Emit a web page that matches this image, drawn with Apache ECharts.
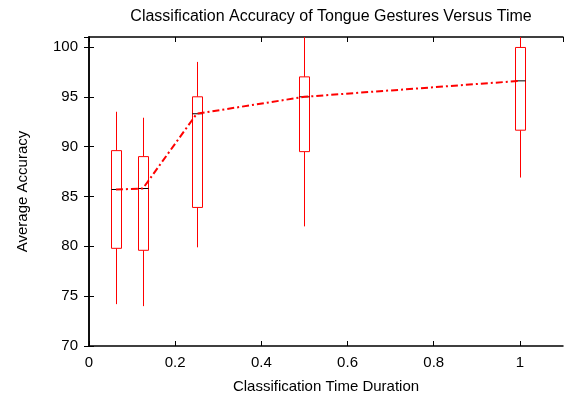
<!DOCTYPE html>
<html>
<head>
<meta charset="utf-8">
<script src="https://cdn.jsdelivr.net/npm/echarts@6/dist/echarts.min.js"></script>
<style>
  html, body { margin: 0; padding: 0; background: #fff; }
  #chart { width: 569px; height: 398px; }
</style>
</head>
<body>
<div id="chart"></div>
<script>
// time durations (s)
var durations = [0.0625, 0.125, 0.25, 0.5, 1];
// box statistics per duration
var whiskerLow = [74.2, 74.0, 79.9, 82.0, 86.9];
var boxLow = [79.8, 79.6, 83.9, 89.5, 91.65];
var medians = [85.7, 85.8, 93.3, 95.0, 96.6];
var boxHigh = [89.6, 89.0, 95.0, 97.0, 99.95];
var whiskerHigh = [93.5, 92.9, 98.5, 102.5, 101.5];

var xTicks = [0, 0.2, 0.4, 0.6, 0.8, 1];
var yTicks = [70, 75, 80, 85, 90, 95, 100];

var RED = '#ff0000';
var FONT = 'Liberation Sans, Arial, sans-serif';

var chartDom = document.getElementById('chart');
var myChart = echarts.init(chartDom);

var boxData = durations.map(function (d, i) {
    return [d, whiskerLow[i], boxLow[i], medians[i], boxHigh[i], whiskerHigh[i]];
});
var lineData = durations.map(function (d, i) {
    return [d, medians[i]];
});

function renderBox(params, api) {
    var x = api.value(0);
    var pLow = api.coord([x, api.value(1)]);
    var pQ1 = api.coord([x, api.value(2)]);
    var pMed = api.coord([x, api.value(3)]);
    var pQ3 = api.coord([x, api.value(4)]);
    var pHigh = api.coord([x, api.value(5)]);
    var hw = 5;
    var cx = Math.round(pMed[0]) + 0.5;
    var red = { stroke: RED, lineWidth: 1, fill: null };
    return {
        type: 'group',
        children: [
            { type: 'line', shape: { x1: cx, y1: pLow[1], x2: cx, y2: pQ1[1] }, style: red },
            { type: 'line', shape: { x1: cx, y1: pQ3[1], x2: cx, y2: pHigh[1] }, style: red },
            { type: 'rect', shape: { x: cx - hw, y: pQ3[1], width: hw * 2, height: pQ1[1] - pQ3[1] },
              style: { stroke: RED, lineWidth: 1, fill: '#fff' } },
            { type: 'line', shape: { x1: cx - hw, y1: pMed[1], x2: cx + hw, y2: pMed[1] },
              style: { stroke: '#000', lineWidth: 1 } }
        ]
    };
}

var axisLineStyle = { color: '#000', width: 1.5 };

var option = {
    animation: false,
    backgroundColor: '#fff',
    title: {
        text: 'Classification Accuracy of Tongue Gestures Versus Time',
        left: 326,
        top: 4,
        textAlign: 'center',
        textStyle: { fontFamily: FONT, fontSize: 16, fontWeight: 'normal', color: '#000' }
    },
    grid: { left: 89, right: 6, top: 37, bottom: 52, outerBoundsMode: 'none', containLabel: false },
    xAxis: [
        {
            type: 'value', min: 0, max: 1.1, interval: 0.2,
            name: 'Classification Time Duration',
            nameLocation: 'middle', nameGap: 33,
            nameTextStyle: { fontFamily: FONT, fontSize: 15, color: '#000' },
            axisLine: { show: true, lineStyle: axisLineStyle },
            axisTick: { show: true, inside: true, length: 5, lineStyle: { color: '#000' } },
            axisLabel: {
                fontFamily: FONT, fontSize: 15, color: '#000', margin: 9,
                showMaxLabel: false,
                formatter: function (v) { return xTicks.indexOf(Math.round(v * 10) / 10) >= 0 ? String(Math.round(v * 10) / 10) : ''; }
            },
            splitLine: { show: false }
        },
        {
            type: 'value', position: 'top', min: 0, max: 1.1, interval: 0.2,
            axisLine: { show: true, lineStyle: axisLineStyle },
            axisTick: { show: true, inside: true, length: 5, lineStyle: { color: '#000' } },
            axisLabel: { show: false },
            splitLine: { show: false }
        }
    ],
    yAxis: [
        {
            type: 'value', min: 70, max: 101, interval: 5,
            name: 'Average Accuracy',
            nameLocation: 'middle', nameGap: 59,
            nameTextStyle: { fontFamily: FONT, fontSize: 15, color: '#000' },
            axisLine: { show: true, lineStyle: axisLineStyle },
            axisTick: { show: true, inside: true, length: 5, lineStyle: { color: '#000' } },
            axisLabel: {
                fontFamily: FONT, fontSize: 15, color: '#000', margin: 11,
                showMaxLabel: false,
                formatter: function (v) { return yTicks.indexOf(v) >= 0 ? String(v) : ''; }
            },
            splitLine: { show: false }
        },
        {
            type: 'value', position: 'right', min: 70, max: 101, interval: 5,
            axisLine: { show: true, lineStyle: axisLineStyle },
            axisTick: { show: true, inside: true, length: 5, lineStyle: { color: '#000' } },
            axisLabel: { show: false },
            splitLine: { show: false }
        }
    ],
    series: [
        {
            type: 'custom',
            xAxisIndex: 0, yAxisIndex: 0,
            clip: true,
            renderItem: renderBox,
            encode: { x: 0, y: [1, 2, 3, 4, 5] },
            data: boxData,
            z: 2
        },
        {
            type: 'line',
            xAxisIndex: 0, yAxisIndex: 0,
            data: lineData,
            symbol: 'none',
            lineStyle: { color: RED, width: 2, type: [7, 3, 2, 3] },
            z: 3
        }
    ]
};

option && myChart.setOption(option);
</script>
</body>
</html>
